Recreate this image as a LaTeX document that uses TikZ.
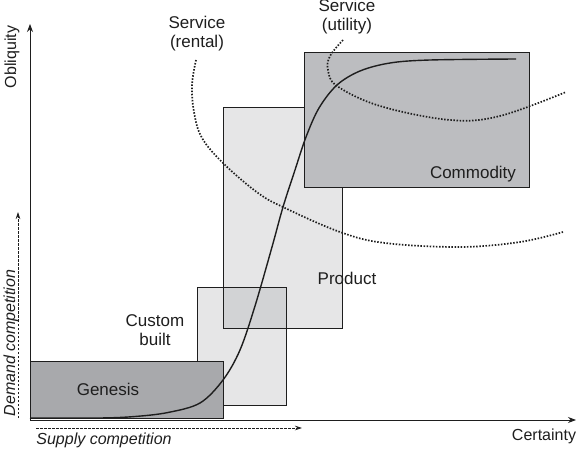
\documentclass[tikz,border=0pt]{standalone}
\usepackage{fontspec}
\setmainfont{Liberation Sans}
\usetikzlibrary{arrows.meta}
\definecolor{gen}{RGB}{168,169,172}
\definecolor{light}{RGB}{230,230,231}
\definecolor{ovl}{RGB}{210,211,213}
\definecolor{comm}{RGB}{188,189,192}
\definecolor{ink}{RGB}{30,30,30}
\tikzset{
  box/.style={draw=ink, line width=0.9pt},
  lbl/.style={font=\fontsize{17}{19}\selectfont, text=ink, inner sep=0pt, align=center},
  slbl/.style={font=\fontsize{16}{19}\selectfont, text=ink, inner sep=0pt, align=center},
  ilbl/.style={font=\fontsize{16}{19}\selectfont\itshape, text=ink, inner sep=0pt},
  axis/.style={draw=ink, line width=0.9pt, -{Stealth[length=8pt,width=6pt]}},
  daxis/.style={draw=ink, line width=0.7pt, dash pattern=on 2.5pt off 1.5pt, -{Stealth[length=7pt,width=4.5pt]}},
  dots/.style={draw=ink, line width=1.7pt, dash pattern=on 1.5pt off 1.6pt},
  scurve/.style={draw=ink, line width=1.4pt}
}
\begin{document}
\begin{tikzpicture}[x=1pt,y=-1pt]
\useasboundingbox (0,0) rectangle (576,449);
% boxes
\path[box, fill=light] (197,287) rectangle (286,405);
\path[box, fill=light] (223,107) rectangle (342,328);
\path[fill=ovl] (223,287) rectangle (286,328);
\draw[ink, line width=0.9pt] (223,287) -- (286,287) -- (286,328);
\draw[ink, line width=0.9pt] (223,287) -- (223,328) -- (286,328);
\path[box, fill=comm] (304,52) rectangle (529,187);
\path[box, fill=gen] (30,361) rectangle (223,418);
% axes
\coordinate (o) at (30,420);
\coordinate (ytop) at (30,24);
\coordinate (xend) at (576,420);
\draw[axis] (o) -- (ytop);
\draw[axis] (o) -- (xend);
\coordinate (dv0) at (18,418);
\coordinate (dv1) at (18,212);
\coordinate (dh0) at (36,428);
\coordinate (dh1) at (302,428);
\draw[daxis] (dv0) -- (dv1);
\draw[daxis] (dh0) -- (dh1);
% dotted service curves
\draw[dots] plot[smooth, tension=0.6] coordinates {(196,60) (192,85) (194,112) (202,138) (224,164) (258,193) (285,208) (340,232) (385,243) (460,247) (520,242) (563,232)};
\draw[dots] plot[smooth, tension=0.6] coordinates {(343,40) (330,56) (328,70) (337,86) (380,106) (450,120) (500,116) (566,92)};
% S-curve
\draw[scurve] plot[smooth, tension=0.55] coordinates {(30,418) (100,418) (135,416.5) (168,412.5) (200,403) (223,380) (240,350) (255,306) (272,247) (283,207) (295,170) (306,137) (319,108) (337,85) (360,71) (390,63) (430,60) (516,59)};
% labels
\node[lbl] (srental) at (197,34) {Service\\(rental)};
\node[lbl] (sutil) at (347,17) {Service\\(utility)};
\node[lbl] (commodity) at (473,174) {Commodity};
\node[lbl] (product) at (347,278) {Product};
\node[lbl] (custom) at (155,330) {Custom\\built};
\node[lbl] (genesis) at (108,389) {Genesis};
\node[slbl, rotate=90] (obl) at (12,57) {Obliquity};
\node[ilbl, rotate=90] (demand) at (11,343) {Demand competition};
\node[ilbl] (supply) at (104,440) {Supply competition};
\node[slbl] (cert) at (544,436) {Certainty};
\end{tikzpicture}
\end{document}
